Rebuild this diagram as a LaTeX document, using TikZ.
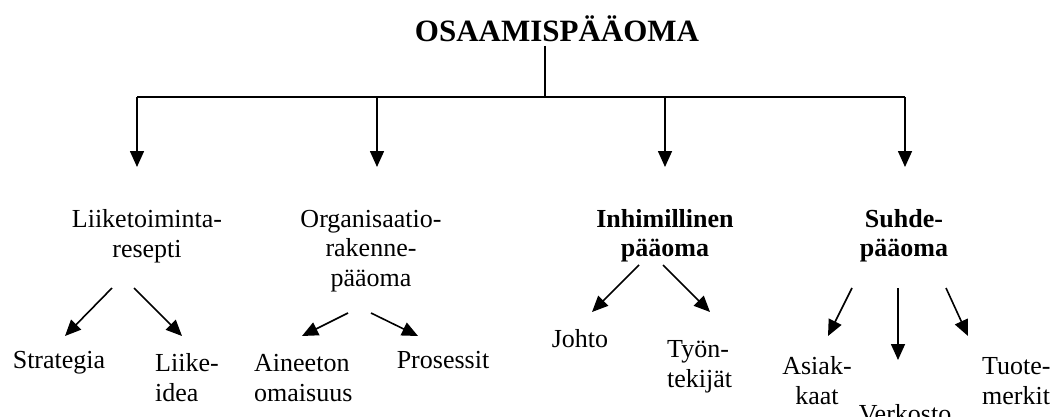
\documentclass[tikz,border=0pt]{standalone}
\usepackage{fontspec}
\setmainfont{Liberation Serif}
\usetikzlibrary{arrows.meta}
\begin{document}
\begin{tikzpicture}[x=1pt,y=-1pt,
  lbl/.style={inner sep=0pt, anchor=base, align=center,
              font=\fontsize{26}{29.5}\selectfont},
  lblL/.style={lbl, anchor=base west, align=left},
  lblB/.style={lbl, font=\fontsize{26}{29}\selectfont\bfseries},
  ttl/.style={inner sep=0pt, anchor=base, font=\fontsize{31}{36}\selectfont\bfseries},
  wire/.style={line width=1.6pt},
  arr/.style={wire, -{Triangle[width=14pt,length=16pt]}}]
\useasboundingbox (0,0) rectangle (1062,417);

% title and top-level categories (node positions give the last line's baseline)
\node[ttl] (title) at (557,42) {OSAAMISPÄÄOMA};
\node[lbl]  (liike) at (147,257) {Liiketoiminta-\\resepti};
\node[lbl]  (org)   at (371,286) {Organisaatio-\\rakenne-\\pääoma};
\node[lblB] (inh)   at (665,256) {Inhimillinen\\pääoma};
\node[lblB] (suhde) at (904,256) {Suhde-\\pääoma};

% sub-items
\node[lbl]  (strat) at (59,368)  {Strategia};
\node[lblL] (idea)  at (155,401) {Liike-\\idea};
\node[lblL] (aine)  at (254,401) {Aineeton\\omaisuus};
\node[lbl]  (pros)  at (443,368) {Prosessit};
\node[lbl]  (johto) at (580,347) {Johto};
\node[lblL] (tyon)  at (667,387) {Työn-\\tekijät};
\node[lbl]  (asiak) at (817,404) {Asiak-\\kaat};
\node[lbl]  (verk)  at (905,422) {Verkosto};
\node[lblL] (tuote) at (982,404) {Tuote-\\merkit};

% trunk and bus
\coordinate (trunk) at (545,46);
\coordinate (busL) at (137,97);
\coordinate (busR) at (905,97);
\coordinate (dA) at (137,167);
\coordinate (dB) at (377,167);
\coordinate (dC) at (665,167);
\coordinate (dD) at (905,167);
\draw[wire] (trunk) -- (trunk |- busL);
\draw[wire] (busL) -- (busR);
\draw[arr] (dA |- busL) -- (dA);
\draw[arr] (dB |- busL) -- (dB);
\draw[arr] (dC |- busL) -- (dC);
\draw[arr] (dD |- busL) -- (dD);

% branch arrows
\coordinate (lA) at (112,288); \coordinate (lAt) at (65,336);
\coordinate (lB) at (134,288); \coordinate (lBt) at (182,336);
\coordinate (oA) at (348,313); \coordinate (oAt) at (302,336);
\coordinate (oB) at (371,313); \coordinate (oBt) at (418,336);
\coordinate (iA) at (639,265); \coordinate (iAt) at (592,312);
\coordinate (iB) at (663,265); \coordinate (iBt) at (710,312);
\coordinate (sA) at (852,288); \coordinate (sAt) at (828,336);
\coordinate (sB) at (898,288); \coordinate (sBt) at (898,360);
\coordinate (sC) at (946,288); \coordinate (sCt) at (968,336);
\draw[arr] (lA) -- (lAt);
\draw[arr] (lB) -- (lBt);
\draw[arr] (oA) -- (oAt);
\draw[arr] (oB) -- (oBt);
\draw[arr] (iA) -- (iAt);
\draw[arr] (iB) -- (iBt);
\draw[arr] (sA) -- (sAt);
\draw[arr] (sB) -- (sBt);
\draw[arr] (sC) -- (sCt);
\end{tikzpicture}
\end{document}
